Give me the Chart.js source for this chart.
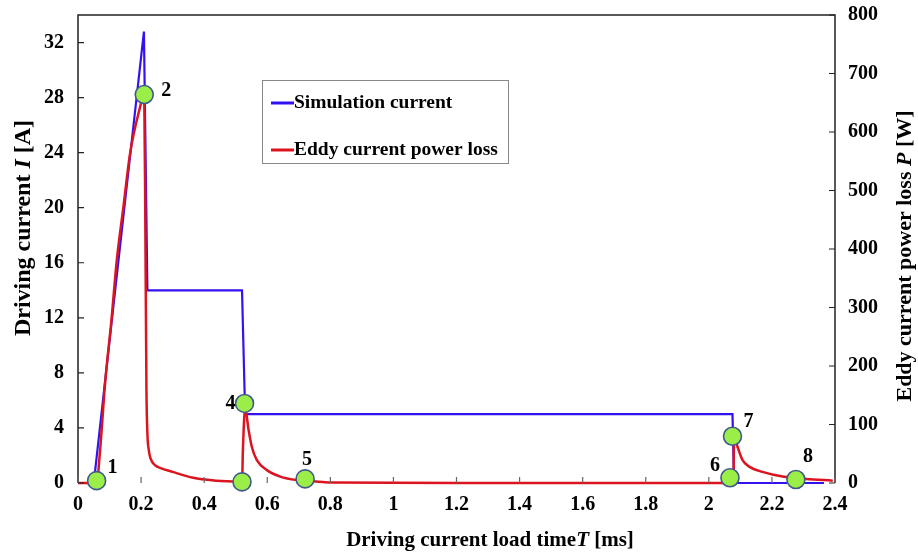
<!DOCTYPE html>
<html>
<head>
<meta charset="utf-8">
<script src="https://cdn.jsdelivr.net/npm/chart.js@4.4.1/dist/chart.umd.min.js"></script>
<style>
  body { margin: 0; background: #fff; }
  #wrap { width: 918px; height: 556px; position: relative; }
</style>
</head>
<body>
<div id="wrap"><canvas id="eddy-chart" width="918" height="556"></canvas></div>
<script>
// Simulation current (left axis, A)
const simTime = [0.05, 0.209, 0.22, 0.52, 0.53, 2.075, 2.08, 2.365]
const simCurrent = [0, 32.8, 14, 14, 5, 5, 0, 0]

// Eddy current power loss (right axis, W)
const lossTime = [0, 0.059, 0.07, 0.086, 0.107, 0.123, 0.144, 0.165, 0.197, 0.21, 0.214, 0.217, 0.22, 0.224, 0.23, 0.245, 0.26, 0.3, 0.365, 0.44, 0.504, 0.52,
    0.523, 0.53, 0.541, 0.551, 0.567, 0.599, 0.641, 0.694, 0.746, 0.8, 1.2, 1.6, 2.0, 2.078,
    2.08, 2.091, 2.107, 2.128, 2.17, 2.234, 2.308, 2.393]
const lossPower = [0, 0, 56, 171, 284, 381, 472, 563, 643, 666, 400, 160, 85, 58, 42, 30, 26, 19, 9, 4, 2, 1,
    60, 128, 90, 62, 39, 22, 11, 5, 3, 1, 0, 0, 0, 0,
    80, 62, 39, 28, 19, 11, 7, 4]

// Numbered markers (on the power loss curve)
const markerTime = [0.059, 0.21, 0.52, 0.528, 0.72, 2.067, 2.075, 2.276]
const markerPower = [4, 664, 2, 136, 7, 9, 80, 6]
const markerLabels = ["1", "2", "", "4", "5", "6", "7", "8"]
const markerLabelOffsets = [[16, -13], [22, -4], [0, 0], [-14, 0], [2, -19], [-15, -12], [16, -14], [12, -23]]

const xTickLabels = ["0", "0.2", "0.4", "0.6", "0.8", "1", "1.2", "1.4", "1.6", "1.8", "2", "2.2", "2.4"]

const serif = "'Liberation Serif', 'Times New Roman', serif"
const blue = "#3312f0"
const red = "#dc1420"

const toPoints = (xs, ys) => xs.map((x, i) => ({ x: x, y: ys[i] }))

// draw text made of plain / italic pieces, centred on (0,0)
const drawMixed = (ctx, parts, size) => {
    const fonts = parts.map((p) => (p[1] ? "italic " : "") + "bold " + size + "px " + serif)
    let total = 0
    const widths = parts.map((p, i) => {
        ctx.font = fonts[i]
        const w = ctx.measureText(p[0]).width
        total += w
        return w
    })
    let x = -total / 2
    parts.forEach((p, i) => {
        ctx.font = fonts[i]
        ctx.fillText(p[0], x, 0)
        x += widths[i]
    })
}

const framePlugin = {
    id: "frame",
    afterDatasetsDraw(chart) {
        const ctx = chart.ctx
        const a = chart.chartArea
        const xs = chart.scales.x
        const yl = chart.scales.yI
        const yr = chart.scales.yP
        ctx.save()
        ctx.lineWidth = 1.5
        // box
        ctx.strokeStyle = "#222"
        ctx.beginPath()
        ctx.moveTo(a.left, a.bottom)
        ctx.lineTo(a.left, a.top)
        ctx.lineTo(a.right, a.top)
        ctx.lineTo(a.right, a.bottom)
        ctx.stroke()
        // inward ticks
        ctx.lineWidth = 1.2
        ctx.beginPath()
        yl.ticks.forEach((t) => {
            const y = yl.getPixelForValue(t.value)
            ctx.moveTo(a.left, y)
            ctx.lineTo(a.left + 6, y)
        })
        yr.ticks.forEach((t) => {
            const y = yr.getPixelForValue(t.value)
            ctx.moveTo(a.right, y)
            ctx.lineTo(a.right - 6, y)
        })
        ctx.stroke()
        ctx.strokeStyle = "#666"
        ctx.beginPath()
        xs.ticks.forEach((t) => {
            const x = xs.getPixelForValue(t.value)
            ctx.moveTo(x, a.bottom)
            ctx.lineTo(x, a.bottom - 6)
        })
        ctx.stroke()
        ctx.restore()
    },
    afterDraw(chart) {
        const ctx = chart.ctx
        ctx.save()
        ctx.fillStyle = "#000"
        ctx.textBaseline = "middle"

        // marker numbers
        const meta = chart.getDatasetMeta(2)
        ctx.font = "bold 20px " + serif
        ctx.textAlign = "center"
        meta.data.forEach((pt, i) => {
            if (!markerLabels[i]) return
            ctx.fillText(markerLabels[i], pt.x + markerLabelOffsets[i][0], pt.y + markerLabelOffsets[i][1])
        })

        // axis titles
        ctx.textAlign = "left"
        ctx.save()
        ctx.translate(24, 228)
        ctx.rotate(-Math.PI / 2)
        drawMixed(ctx, [["Driving current ", false], ["I", true], [" [A]", false]], 24)
        ctx.restore()

        ctx.save()
        ctx.translate(905, 256)
        ctx.rotate(-Math.PI / 2)
        drawMixed(ctx, [["Eddy current power loss ", false], ["P", true], [" [W]", false]], 22)
        ctx.restore()

        ctx.save()
        ctx.translate(490, 541)
        drawMixed(ctx, [["Driving current load time", false], ["T", true], [" [ms]", false]], 21)
        ctx.restore()

        // legend box
        ctx.fillStyle = "#fff"
        ctx.fillRect(262.5, 80.5, 246, 83)
        ctx.strokeStyle = "#888"
        ctx.lineWidth = 1
        ctx.strokeRect(262.5, 80.5, 246, 83)
        const rows = [[chart.data.datasets[0], 103], [chart.data.datasets[1], 150]]
        rows.forEach((r) => {
            ctx.strokeStyle = r[0].borderColor
            ctx.lineWidth = 3
            ctx.beginPath()
            ctx.moveTo(271, r[1])
            ctx.lineTo(294, r[1])
            ctx.stroke()
            ctx.fillStyle = "#000"
            ctx.font = "bold 19.5px " + serif
            ctx.fillText(r[0].label, 294, r[1])
        })
        ctx.restore()
    }
}

const tickFont = { family: serif, size: 20, weight: "bold" }

// fix the scale sizes so the plot box sits where the original one does
const fixVertical = (w) => (s) => {
    s.width = w
    s.paddingTop = 0
    s.paddingBottom = 0
}

const eddyChart = new Chart(document.getElementById("eddy-chart"), {
    type: "line",
    data: {
        datasets: [
            {
                label: "Simulation current",
                data: toPoints(simTime, simCurrent),
                yAxisID: "yI",
                borderColor: blue,
                borderWidth: 2.2,
                pointRadius: 0,
                clip: false,
                order: 2
            },
            {
                label: "Eddy current power loss",
                data: toPoints(lossTime, lossPower),
                yAxisID: "yP",
                borderColor: red,
                borderWidth: 2.5,
                pointRadius: 0,
                cubicInterpolationMode: "monotone",
                clip: false,
                order: 1
            },
            {
                type: "scatter",
                label: "markers",
                data: toPoints(markerTime, markerPower),
                yAxisID: "yP",
                showLine: false,
                pointRadius: 9,
                pointBackgroundColor: "#9bee47",
                pointBorderColor: "#41598c",
                pointBorderWidth: 1.6,
                clip: false,
                order: 0
            }
        ]
    },
    options: {
        responsive: false,
        animation: false,
        layout: { padding: { top: 15, left: 0, right: 0, bottom: 0 } },
        plugins: { legend: { display: false }, tooltip: { enabled: false } },
        scales: {
            x: {
                type: "linear",
                min: 0,
                max: 2.4,
                grid: { display: false, drawTicks: false },
                border: { display: false },
                ticks: {
                    stepSize: 0.2,
                    padding: 10,
                    maxRotation: 0,
                    color: "#000",
                    font: tickFont,
                    callback: (v, i) => xTickLabels[i] ?? v
                },
                afterFit: (s) => {
                    s.height = 73
                    s.paddingLeft = 0
                    s.paddingRight = 0
                }
            },
            yI: {
                position: "left",
                min: 0,
                max: 34,
                grid: { display: false, drawTicks: false },
                border: { display: false },
                ticks: { stepSize: 4, includeBounds: false, padding: 14, color: "#000", font: tickFont },
                afterFit: fixVertical(78)
            },
            yP: {
                position: "right",
                min: 0,
                max: 800,
                grid: { display: false, drawTicks: false },
                border: { display: false },
                ticks: { stepSize: 100, padding: 13, color: "#000", font: tickFont },
                afterFit: fixVertical(83)
            }
        }
    },
    plugins: [framePlugin]
})
</script>
</body>
</html>
